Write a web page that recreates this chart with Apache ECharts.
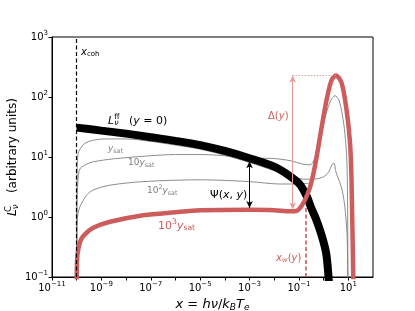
<!DOCTYPE html>
<html><head><meta charset="utf-8">
<script src="https://cdn.jsdelivr.net/npm/echarts@6/dist/echarts.min.js"></script>
<style>html,body{margin:0;padding:0;background:#fff}#c{width:415px;height:311px}</style>
</head><body><div id="c"></div>
<script>
// ---- data (x = h nu / kB Te, y = L in arbitrary units) ----
const ffData = [[1e-10,30.9],[1e-9,27.5],[1e-8,24.5],[1e-7,21.4],[1e-6,18.6],[1e-5,15.8],[1e-4,12.6],[1e-3,9.55],[0.01,6.92],[0.0316,5.25],[0.1,3.63],[0.2,2.29],[0.316,1.41],[0.5,0.91],[0.794,0.525],[1.122,0.316],[1.318,0.224],[1.585,0.1],[1.66,0.063]];
const ySat1Data = [[1e-10,0.1],[1.012e-10,2.51],[1.047e-10,6.31],[1.148e-10,11.5],[1.585e-10,14.8],[2.19e-10,17.0],[4.68e-10,19.05],[1.585e-9,20.0],[1e-8,20.0],[1e-7,18.2],[1e-6,15.8],[1e-5,13.5],[1e-4,10.7],[1e-3,8.13],[0.01,5.89],[0.0251,5.01],[0.063,4.57],[0.158,4.27],[0.398,4.27],[1.0,4.68],[1.585,5.62],[2.24,7.59],[2.63,7.94],[3.16,5.62],[4.47,3.80],[5.62,2.82],[7.24,1.48],[8.91,0.5],[9.55,0.1],[9.7,0.06]];
const ySat10Data = [[1e-10,0.1],[1.023e-10,1.585],[1.122e-10,3.98],[1.349e-10,6.31],[2.51e-10,7.59],[4.68e-10,8.32],[3.16e-9,9.33],[1e-7,10.5],[1e-6,11.0],[1e-5,11.0],[1e-4,10.5],[1e-3,9.55],[0.00676,9.5],[0.0437,8.71],[0.145,7.59],[0.282,7.41],[0.355,7.94],[0.5,11.2],[0.794,24.0],[1.259,52.5],[1.995,89.0],[2.884,105],[4.17,89.0],[5.75,50.0],[7.24,25.0],[8.71,8.9],[9.33,2.0],[9.66,0.1],[9.8,0.06]];
const ySat100Data = [[1e-10,0.1],[1.023e-10,0.5],[1.072e-10,1.0],[1.349e-10,1.48],[2.51e-10,2.3],[4.68e-10,2.82],[2.24e-9,3.39],[5.0e-8,3.89],[1e-5,4.17],[1e-3,3.89],[0.0158,3.55],[0.1,3.55],[0.2,3.63],[0.282,3.6],[0.447,7.0],[0.832,30.0],[1.318,85.0],[2.089,180],[3.162,215],[5.37,160],[8.51,57.0],[11.75,16.0],[13.49,4.0],[15.5,0.1],[16.0,0.05]];
const ySat1000Data = [[1e-10,0.08],[1.023e-10,0.158],[1.096e-10,0.251],[1.413e-10,0.398],[2.0e-10,0.5],[4.68e-10,0.661],[2.24e-9,0.832],[5.0e-8,1.07],[1e-6,1.2],[1e-5,1.29],[1e-3,1.32],[0.01,1.30],[0.0437,1.245],[0.0794,1.26],[0.11,1.40],[0.174,1.91],[0.282,3.16],[0.447,7.08],[0.832,31.6],[1.318,89.1],[2.089,190.5],[3.162,228],[5.37,170],[8.51,60.3],[11.75,17.0],[13.49,4.17],[15.85,0.1],[16.6,0.05]];
const xCoh = 1e-10;
const xW = 0.19, xWTop = 1.5;
const psiX = 1e-3, psiTop = 8.5, psiBottom = 1.41;
const deltaX = 0.056, deltaBottom = 1.33, deltaTop = 228, peakX = 3.1;
const xMin = 1e-11, xMax = 1e2, yMin = 0.1, yMax = 1e3;

const RED = '#CD5C5C', GREY = '#808080';
const FF = 'DejaVu Sans';
const sup = {fontSize: 7, fontFamily: FF, color: '#000', padding: [0,0,7,0]};
function expLabel(v){
  const e = Math.round(Math.log10(v));
  return '{b|10}{s|' + String(e).replace('-', '\u2212') + '}';
}
const chart = echarts.init(document.getElementById('c'), null, {renderer:'canvas'});
const gLeft = 52, gTop = 37, gRight = 42, gBottom = 34;

function vline(x, y0, y1, style, sym){
  return {silent:true, symbol: sym || 'none', symbolSize: [5,7], label:{show:false}, lineStyle: style,
    data:[[{coord:[x,y0]},{coord:[x,y1]}]]};
}
const option = {
  animation:false,
  grid:{left:gLeft, top:gTop, right:gRight, bottom:gBottom, containLabel:false, outerBoundsMode:'none', show:true, borderColor:'#000', borderWidth:1, backgroundColor:'transparent'},
  xAxis:{type:'log', logBase:10, min:xMin, max:xMax, interval:1,
    axisLine:{show:true, lineStyle:{color:'#000', width:1}},
    axisTick:{show:true, length:3.5, lineStyle:{color:'#000'}},
    splitLine:{show:false},
    axisLabel:{margin:4, showMinLabel:true, showMaxLabel:false, formatter:function(v){const e=Math.round(Math.log10(v)); return (Math.abs(e)%2===1)? expLabel(v):'';},
      rich:{b:{fontSize:10, fontFamily:FF, color:'#000'}, s:sup}},
    name:'{i|x} = {i|h\u03bd}/{i|k}{sub|B}{i|T}{sub|e}', nameLocation:'middle', nameGap:19,
    nameTextStyle:{fontSize:13, fontFamily:FF, color:'#000',
      rich:{i:{fontStyle:'italic', fontSize:13, fontFamily:FF}, sub:{fontSize:9, fontStyle:'italic', fontFamily:FF, padding:[6,0,0,0]}}}
  },
  yAxis:{type:'log', logBase:10, min:yMin, max:yMax, interval:1,
    axisLine:{show:true, lineStyle:{color:'#000', width:1}},
    axisTick:{show:true, length:3.5, lineStyle:{color:'#000'}},
    splitLine:{show:false},
    axisLabel:{margin:4, formatter:function(v){return expLabel(v);},
      rich:{b:{fontSize:10, fontFamily:FF, color:'#000'}, s:sup}}
  },
  series:[
    {type:'line', data:ySat1Data, showSymbol:false, smooth:0.3, lineStyle:{color:GREY, width:0.9}, z:2,
      markLine: vline(xCoh, yMin, yMax, {color:'#000', width:1.2, type:[4,2.5]})},
    {type:'line', data:ySat10Data, showSymbol:false, smooth:0.3, lineStyle:{color:GREY, width:0.9}, z:2},
    {type:'line', data:ySat100Data, showSymbol:false, smooth:0.3, lineStyle:{color:GREY, width:0.9}, z:2},
    {type:'line', data:ffData, showSymbol:false, smooth:0.3, lineStyle:{color:'#000', width:8, cap:'butt'}, z:3,
      markLine: vline(psiX, psiTop, psiBottom, {color:'#000', width:1, type:'solid'}, ['arrow','arrow'])},
    {type:'line', data:ySat1000Data, showSymbol:false, smooth:0.3, lineStyle:{color:RED, width:4.5}, z:4,
      markLine: vline(xW, yMin, xWTop, {color:RED, width:1.6, type:[4,2.5]})},
    {type:'line', data:[], showSymbol:false, z:1,
      markLine:{silent:true, symbol:['arrow','arrow'], symbolSize:[5,7], label:{show:false},
        lineStyle:{color:'#E39A9A', width:1, type:'solid'},
        data:[[{coord:[deltaX, deltaBottom]},{coord:[deltaX, deltaTop]}]]}},
    {type:'line', data:[], showSymbol:false, z:1,
      markLine:{silent:true, symbol:'none', label:{show:false},
        lineStyle:{color:'#E39A9A', width:1, type:[1.5,1.5]},
        data:[[{coord:[deltaX, deltaTop]},{coord:[peakX, deltaTop]}]]}}
  ]
};
chart.setOption(option);

function label(x, y, text, rich, fs, color){
  return {type:'text', x:x, y:y, z:100, style:{text:text, rich:rich, fontSize:fs, fontFamily:FF, fill:color, textVerticalAlign:'middle'}};
}
function mkRich(c, fs){
  return {
    i:{fontStyle:'italic', fontSize:fs, fontFamily:FF, color:c},
    r:{fontSize:fs, fontFamily:FF, color:c},
    sub:{fontSize:fs*0.7, fontFamily:FF, color:c, padding:[fs*0.45,0,0,0]},
    isub:{fontStyle:'italic', fontSize:fs*0.7, fontFamily:FF, color:c, padding:[fs*0.45,0,0,0]},
    sup:{fontSize:fs*0.7, fontFamily:FF, color:c, padding:[0,0,fs*0.7,0]},
    zsup:{fontSize:fs*0.7, fontFamily:FF, color:c, width:0, padding:[0,0,fs*0.7,0]}
  };
}
const yName = {type:'text', x:13, y:157, rotation:Math.PI/2, z:100,
  style:{text:'{i|L}{zsup|C}{isub|\u03bd}{r|   (arbitrary units)}', rich:mkRich('#000',12), fontSize:12, fontFamily:FF,
    fill:'#000', textAlign:'center', textVerticalAlign:'middle'}};
chart.setOption({graphic:[
  yName,
  label(81, 52, '{i|x}{sub|coh}', mkRich('#000',10), 10, '#000'),
  label(108, 121, '{i|L}{zsup|ff}{isub|\u03bd}{r|   (}{i|y}{r| = 0)}', mkRich('#000',11), 11, '#000'),
  label(108, 149, '{i|y}{sub|sat}', mkRich(GREY,9), 9, GREY),
  label(128, 163, '{r|10}{i|y}{sub|sat}', mkRich(GREY,9), 9, GREY),
  label(147, 191, '{r|10}{sup|2}{i|y}{sub|sat}', mkRich(GREY,9), 9, GREY),
  label(158, 226, '{r|10}{sup|3}{i|y}{sub|sat}', mkRich(RED,11), 11, RED),
  label(210, 195, '{r|\u03a8(}{i|x}{r|, }{i|y}{r|)}', mkRich('#000',11), 11, '#000'),
  label(268, 116, '{r|\u0394(}{i|y}{r|)}', mkRich(RED,10), 10, RED),
  label(276, 258, '{i|x}{isub|w}{r|(}{i|y}{r|)}', mkRich(RED,10), 10, RED)
]});
</script></body></html>
